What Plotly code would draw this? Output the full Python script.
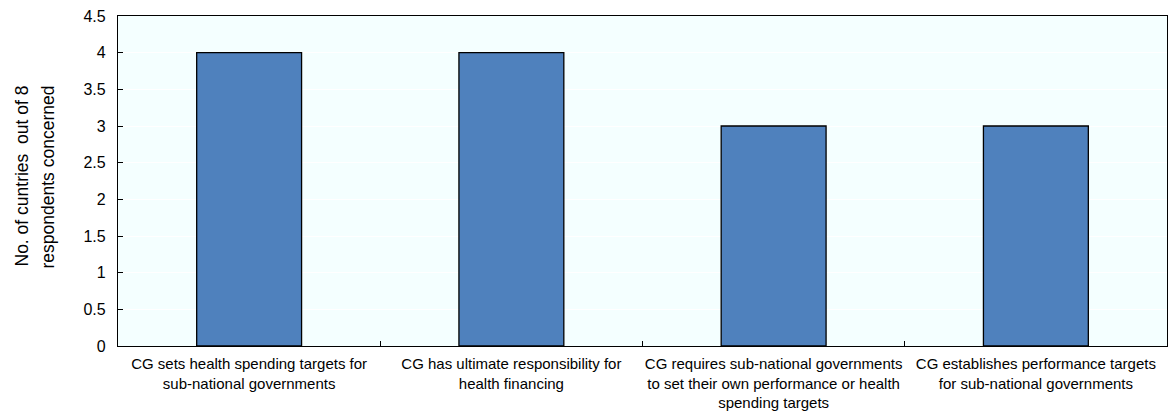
import plotly.graph_objects as go

# Survey responses: countries (out of 8 respondents) per central-government role
categories = [
    "CG sets health spending targets for<br>sub-national governments",
    "CG has ultimate responsibility for<br>health financing",
    "CG requires sub-national governments<br>to set their own performance or health<br>spending targets",
    "CG establishes performance targets<br>for sub-national governments",
]
counts = [4, 4, 3, 3]
y_ticks = [0, 0.5, 1, 1.5, 2, 2.5, 3, 3.5, 4, 4.5]
y_tick_labels = ["0", "0.5", "1", "1.5", "2", "2.5", "3", "3.5", "4", "4.5"]
y_title_lines = ["No. of cuntries\u00a0 out of 8", "respondents concerned"]

FONT = "Liberation Sans, Arial, sans-serif"

fig = go.Figure(
    go.Bar(
        x=categories,
        y=counts,
        marker=dict(color="#4F81BD", line=dict(color="#000000", width=1.3)),
        hoverinfo="x+y",
    )
)

fig.update_layout(
    width=1168,
    height=417,
    margin=dict(l=118, r=1, t=16, b=71, autoexpand=False),
    paper_bgcolor="#FFFFFF",
    plot_bgcolor="#F4FFFF",
    bargap=0.6,
    showlegend=False,
    font=dict(family=FONT, size=15, color="#000000"),
)

fig.update_xaxes(
    type="category",
    automargin=False,
    tickangle=0,
    showline=True,
    linecolor="#000000",
    linewidth=1.3,
    mirror=True,
    ticks="inside",
    tickson="boundaries",
    ticklen=5,
    tickcolor="#000000",
    showgrid=False,
    ticklabelstandoff=4,
    tickfont=dict(family=FONT, size=15),
)

fig.update_yaxes(
    automargin=False,
    range=[0, 4.5],
    tickvals=y_ticks,
    ticktext=y_tick_labels,
    showline=True,
    linecolor="#000000",
    linewidth=1.3,
    mirror=True,
    ticks="inside",
    ticklen=5,
    tickcolor="#000000",
    showgrid=True,
    gridcolor="#FFFFFF",
    gridwidth=1,
    zeroline=False,
    ticklabelstandoff=8,
    tickfont=dict(family=FONT, size=16),
)

# Two-line rotated y-axis title, lines end-aligned at the top
for line, shift in zip(y_title_lines, [-97, -71]):
    fig.add_annotation(
        text=line,
        textangle=-90,
        xref="paper",
        yref="paper",
        x=0,
        y=1,
        xanchor="center",
        yanchor="top",
        xshift=shift,
        yshift=-68,
        showarrow=False,
        font=dict(family=FONT, size=17.5, color="#000000"),
    )

fig.write_html("out.html")
